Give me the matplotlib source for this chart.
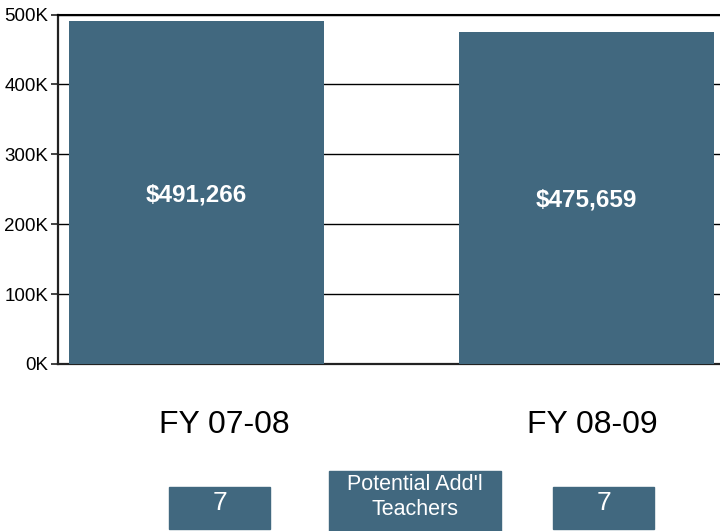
import matplotlib.pyplot as plt
from matplotlib.patches import Rectangle

plt.rcParams['font.family'] = ['Liberation Sans', 'DejaVu Sans']

# budget per fiscal year
years = ['FY 07-08', 'FY 08-09']
amounts = [491266, 475659]
teachers = [7, 7]
yticks = [0, 100000, 200000, 300000, 400000, 500000]
ytick_labels = ['0K', '100K', '200K', '300K', '400K', '500K']

bar_color = '#41687f'
W, H = 720, 531

fig = plt.figure(figsize=(7.2, 5.31), dpi=100)
ax = fig.add_axes([58 / W, 1 - 364 / H, 668 / W, 349.5 / H])

x = list(range(len(years)))
ax.bar(x, amounts, width=0.654, color=bar_color, zorder=3)
for xi, v in zip(x, amounts):
    ax.text(xi, v / 2, '${:,}'.format(v), ha='center', va='center_baseline',
            color='white', fontsize=17.5, fontweight='bold', zorder=4)

ax.set_xlim(-0.355, 1.358)
ax.set_ylim(0, 500000)
ax.set_yticks(yticks)
ax.set_yticklabels(ytick_labels, fontsize=13.5)
ax.set_xticks([])
ax.yaxis.grid(True, color='black', linewidth=1, zorder=1)
ax.tick_params(axis='y', length=5, width=1.2, color='#222222', pad=2)
for side in ['left', 'bottom']:
    ax.spines[side].set_linewidth(1.6)
    ax.spines[side].set_color('#222222')
ax.spines['top'].set_linewidth(1.5)
ax.spines['right'].set_visible(False)

# year labels under the chart
for px, yr in zip([224, 592], years):
    fig.text(px / W, 1 - 425 / H, yr, ha='center', va='center', fontsize=23)

# teacher count boxes
def box(x0, y0, x1, y1, txt, size, ty, ls=1.2):
    fig.patches.append(Rectangle((x0 / W, 1 - y1 / H), (x1 - x0) / W,
                                 (y1 - y0) / H, transform=fig.transFigure,
                                 color=bar_color))
    fig.text((x0 + x1) / 2 / W, 1 - ty / H, txt,
             ha='center', va='center', color='white', fontsize=size,
             linespacing=ls)

box(169, 487, 270, 529, str(teachers[0]), 19, 503)
box(329, 471, 501, 531, "Potential Add'l\nTeachers", 15.5, 497, 1.3)
box(553, 487, 654, 529, str(teachers[1]), 19, 503)

fig.savefig('out.png', dpi=100)
